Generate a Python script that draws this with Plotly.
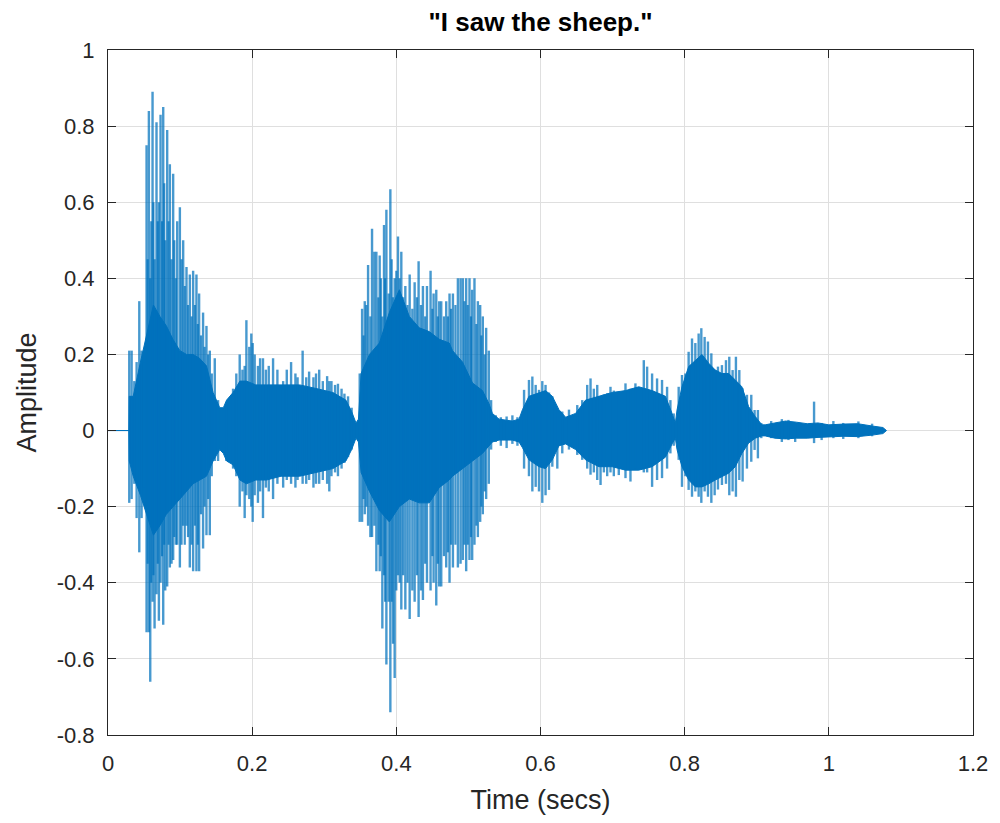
import plotly.graph_objects as go

# ---- data (time in seconds, amplitude) ----
# dense core envelope of the waveform
core_t = [0.000, 0.029, 0.0295, 0.035, 0.045, 0.0535, 0.063, 0.072, 0.081, 0.090, 0.0997, 0.109, 0.118, 0.127, 0.1366,
          0.1458, 0.155, 0.160, 0.1645, 0.1735, 0.183, 0.192, 0.205, 0.220, 0.240, 0.266, 0.290, 0.312, 0.330, 0.338,
          0.344, 0.3475, 0.3511, 0.3627, 0.3765, 0.3903, 0.4042, 0.418, 0.4318, 0.4457, 0.4595, 0.4734, 0.478, 0.4918,
          0.5057, 0.5195, 0.5287, 0.5333, 0.5425, 0.561, 0.5702, 0.575, 0.584, 0.5979, 0.607, 0.6164, 0.6256, 0.6349,
          0.6487, 0.6625, 0.6810, 0.6994, 0.7179, 0.7363, 0.7548, 0.7733, 0.7825, 0.7871, 0.7894, 0.7963, 0.8055,
          0.8148, 0.824, 0.8333, 0.8425, 0.8517, 0.861, 0.8702, 0.8794, 0.8887, 0.8979, 0.9071, 0.9117, 0.925, 0.940,
          0.955, 0.970, 0.985, 1.000, 1.020, 1.040, 1.060, 1.075, 1.080]
core_hi = [0.0, 0.0, 0.09, 0.09, 0.18, 0.25, 0.33, 0.30, 0.275, 0.24, 0.21, 0.20, 0.20, 0.19, 0.17,
           0.10, 0.06, 0.06, 0.08, 0.10, 0.13, 0.13, 0.12, 0.12, 0.12, 0.12, 0.11, 0.10, 0.08, 0.05,
           0.02, 0.03, 0.15, 0.20, 0.23, 0.31, 0.37, 0.30, 0.27, 0.26, 0.24, 0.23, 0.21, 0.18,
           0.125, 0.105, 0.07, 0.045, 0.03, 0.025, 0.03, 0.055, 0.09, 0.10, 0.105, 0.09, 0.055, 0.035,
           0.045, 0.08, 0.09, 0.10, 0.105, 0.115, 0.105, 0.09, 0.045, 0.02, 0.054, 0.115, 0.168,
           0.185, 0.20, 0.177, 0.159, 0.15, 0.15, 0.133, 0.115, 0.063, 0.037, 0.015, 0.015, 0.02, 0.025,
           0.022, 0.018, 0.02, 0.015, 0.017, 0.018, 0.012, 0.008, 0.0]
core_lo = [0.0, 0.0, -0.08, -0.12, -0.17, -0.22, -0.275, -0.25, -0.22, -0.20, -0.18, -0.16, -0.14, -0.13, -0.12,
           -0.08, -0.05, -0.06, -0.08, -0.09, -0.13, -0.14, -0.13, -0.13, -0.12, -0.12, -0.11, -0.10, -0.08, -0.05,
           -0.02, -0.03, -0.11, -0.16, -0.21, -0.24, -0.20, -0.18, -0.19, -0.19, -0.15, -0.13, -0.12, -0.10,
           -0.08, -0.06, -0.04, -0.03, -0.025, -0.025, -0.03, -0.045, -0.077, -0.095, -0.10, -0.077, -0.04, -0.035,
           -0.05, -0.077, -0.095, -0.095, -0.104, -0.104, -0.095, -0.07, -0.035, -0.02, -0.05, -0.095, -0.13,
           -0.148, -0.148, -0.14, -0.13, -0.12, -0.112, -0.095, -0.06, -0.033, -0.02, -0.014, -0.014, -0.02, -0.022,
           -0.02, -0.02, -0.018, -0.016, -0.015, -0.016, -0.012, -0.008, 0.0]

# individual pitch-pulse spikes (time, positive peak, negative peak)
spike_t = [0.0295, 0.0328, 0.0365, 0.0397, 0.0434, 0.0466, 0.0498, 0.0535, 0.0567, 0.0586, 0.0618, 0.0646, 0.0673,
           0.0706, 0.0729, 0.0766, 0.0794, 0.0821, 0.0858, 0.0881, 0.0904, 0.0941, 0.0960, 0.0997, 0.1043, 0.1089,
           0.1135, 0.1181, 0.1227, 0.1264, 0.1319, 0.1366, 0.1412, 0.1481, 0.1527, 0.1642,
           0.1735, 0.1780, 0.1827, 0.1865, 0.1896, 0.1920, 0.1960, 0.1988, 0.2007, 0.2035, 0.2080, 0.2110, 0.2150,
           0.2190, 0.2230, 0.2290, 0.2350, 0.2430, 0.2480, 0.2540, 0.2600, 0.2630, 0.2700, 0.2750, 0.2790, 0.2850,
           0.2886, 0.2930, 0.2980, 0.3040, 0.3070, 0.3100, 0.3150, 0.3190, 0.3240, 0.3280, 0.3330, 0.3380,
           0.3446, 0.3492, 0.3525, 0.3562, 0.3608, 0.3640, 0.3663, 0.3695, 0.3723, 0.3769, 0.3806, 0.3829, 0.3862,
           0.3894, 0.3917, 0.3954, 0.3977, 0.4023, 0.4069, 0.4125, 0.4185, 0.4222, 0.4254, 0.4309, 0.4342, 0.4369,
           0.4425, 0.4475, 0.4517, 0.4554, 0.4595, 0.4623, 0.4692, 0.4738, 0.4785, 0.4854, 0.4891, 0.4923, 0.4969,
           0.5015, 0.5052, 0.5084, 0.5131, 0.5163, 0.5200, 0.5246, 0.5283, 0.5315,
           0.5380, 0.5450, 0.5530, 0.5610, 0.5680,
           0.5772, 0.5840, 0.5887, 0.5933, 0.5979, 0.6025, 0.6070, 0.6118, 0.6164, 0.6233, 0.6302, 0.6395, 0.6510,
           0.6579, 0.6648, 0.6694, 0.6740, 0.6787, 0.6833, 0.6879, 0.6925, 0.6971, 0.7017, 0.7086, 0.7179, 0.7248,
           0.7317, 0.7433, 0.7479, 0.7548, 0.7617, 0.7686, 0.7756, 0.7802, 0.7848,
           0.7917, 0.7963, 0.8010, 0.8055, 0.8102, 0.8148, 0.8194, 0.8231, 0.8277, 0.8323, 0.8370, 0.8416, 0.8462,
           0.8517, 0.8573, 0.8619, 0.8665, 0.8711, 0.8758, 0.8804, 0.8864, 0.8924, 0.8970, 0.9016, 0.9063,
           0.9200, 0.9348, 0.9440, 0.9533, 0.9795, 0.9900, 1.0063, 1.0200, 1.0410, 1.0600]
spike_hi = [0.21, 0.21, 0.13, 0.18, 0.34, 0.21, 0.18, 0.75, 0.84, 0.40, 0.89, 0.45, 0.81,
            0.60, 0.83, 0.85, 0.50, 0.79, 0.70, 0.45, 0.675, 0.40, 0.55, 0.587, 0.50, 0.43,
            0.41, 0.42, 0.41, 0.36, 0.31, 0.275, 0.21, 0.19, 0.08, 0.07,
            0.11, 0.15, 0.20, 0.16, 0.17, 0.29, 0.22, 0.255, 0.23, 0.20, 0.17, 0.19, 0.19,
            0.16, 0.17, 0.19, 0.16, 0.13, 0.16, 0.18, 0.15, 0.14, 0.21, 0.14, 0.155, 0.14,
            0.15, 0.16, 0.13, 0.143, 0.13, 0.13, 0.12, 0.123, 0.11, 0.097, 0.09, 0.06,
            0.02, 0.15, 0.32, 0.34, 0.435, 0.30, 0.53, 0.47, 0.47, 0.46, 0.30, 0.54, 0.58,
            0.36, 0.634, 0.35, 0.40, 0.51, 0.47, 0.38, 0.41, 0.32, 0.39, 0.445, 0.33, 0.38,
            0.38, 0.42, 0.36, 0.37, 0.34, 0.34, 0.34, 0.36, 0.36, 0.40, 0.40, 0.40, 0.40,
            0.40, 0.37, 0.40, 0.34, 0.33, 0.30, 0.27, 0.21, 0.08,
            0.04, 0.035, 0.037, 0.04, 0.035,
            0.107, 0.133, 0.142, 0.12, 0.107, 0.13, 0.12, 0.10, 0.09, 0.055, 0.05, 0.055, 0.067,
            0.08, 0.12, 0.137, 0.11, 0.12, 0.09, 0.095, 0.098, 0.115, 0.105, 0.10, 0.124, 0.11,
            0.124, 0.185, 0.168, 0.15, 0.137, 0.133, 0.115, 0.08, 0.045,
            0.115, 0.146, 0.15, 0.207, 0.242, 0.23, 0.255, 0.269, 0.246, 0.234, 0.203, 0.159, 0.168,
            0.172, 0.185, 0.194, 0.159, 0.194, 0.159, 0.111, 0.094, 0.094, 0.054, 0.054, 0.02,
            0.025, 0.03, 0.028, 0.02, 0.076, 0.02, 0.025, 0.02, 0.024, 0.018]
spike_lo = [-0.19, -0.18, -0.14, -0.23, -0.32, -0.23, -0.15, -0.53, -0.53, -0.66, -0.45, -0.52, -0.43,
            -0.50, -0.40, -0.51, -0.42, -0.41, -0.36, -0.35, -0.34, -0.30, -0.30, -0.36, -0.25, -0.25,
            -0.36, -0.37, -0.37, -0.37, -0.31, -0.275, -0.275, -0.08, -0.08, -0.08,
            -0.10, -0.12, -0.20, -0.16, -0.23, -0.17, -0.18, -0.20, -0.24, -0.17, -0.19, -0.16, -0.23,
            -0.15, -0.16, -0.18, -0.14, -0.15, -0.13, -0.14, -0.15, -0.13, -0.14, -0.14, -0.13, -0.15,
            -0.14, -0.14, -0.13, -0.14, -0.16, -0.12, -0.11, -0.12, -0.10, -0.085, -0.07, -0.05,
            -0.02, -0.24, -0.24, -0.22, -0.25, -0.28, -0.28, -0.25, -0.37, -0.37, -0.52, -0.38, -0.615,
            -0.45, -0.74, -0.56, -0.65, -0.38, -0.47, -0.47, -0.495, -0.42, -0.45, -0.49, -0.42, -0.445,
            -0.40, -0.42, -0.40, -0.46, -0.41, -0.41, -0.36, -0.40, -0.36, -0.36, -0.35, -0.34, -0.37,
            -0.34, -0.34, -0.30, -0.28, -0.24, -0.22, -0.18, -0.14, -0.05,
            -0.03, -0.04, -0.046, -0.035, -0.04,
            -0.10, -0.12, -0.16, -0.148, -0.16, -0.19, -0.17, -0.156, -0.095, -0.10, -0.06, -0.05, -0.064,
            -0.077, -0.10, -0.116, -0.11, -0.13, -0.143, -0.11, -0.12, -0.11, -0.12, -0.117, -0.125, -0.134,
            -0.10, -0.11, -0.11, -0.148, -0.13, -0.125, -0.10, -0.06, -0.04,
            -0.077, -0.148, -0.12, -0.156, -0.174, -0.16, -0.174, -0.19, -0.16, -0.174, -0.19, -0.17, -0.155,
            -0.143, -0.14, -0.17, -0.16, -0.174, -0.13, -0.134, -0.10, -0.082, -0.051, -0.073, -0.02,
            -0.02, -0.03, -0.025, -0.03, -0.033, -0.025, -0.02, -0.022, -0.02, -0.015]

# secondary (smaller) oscillation peaks between the main pulses
minor_t = [0.0550, 0.0600, 0.0630, 0.0690, 0.0750, 0.0780, 0.0840, 0.0920, 0.1020, 0.1065, 0.1110, 0.1160,
           0.1205, 0.1245, 0.1290, 0.1340, 0.1390, 0.1440,
           0.3545, 0.3585, 0.3750, 0.3785, 0.3845, 0.3935, 0.4000, 0.4045, 0.4095, 0.4155, 0.4285, 0.4400,
           0.4500, 0.4575, 0.4660, 0.4715, 0.4760, 0.4820, 0.4945, 0.4990, 0.5035, 0.5110, 0.5180, 0.5225]
minor_hi = [0.45, 0.55, 0.60, 0.55, 0.55, 0.65, 0.55, 0.50, 0.45, 0.38, 0.33, 0.30,
            0.33, 0.28, 0.25, 0.22, 0.20, 0.15,
            0.25, 0.33, 0.35, 0.40, 0.40, 0.45, 0.42, 0.40, 0.35, 0.33, 0.35, 0.30,
            0.32, 0.30, 0.30, 0.30, 0.32, 0.33, 0.34, 0.33, 0.30, 0.28, 0.25, 0.20]
minor_lo = [-0.35, -0.40, -0.38, -0.35, -0.33, -0.30, -0.30, -0.28, -0.30, -0.30, -0.28, -0.30,
            -0.25, -0.30, -0.22, -0.20, -0.18, -0.12,
            -0.18, -0.20, -0.30, -0.33, -0.45, -0.45, -0.42, -0.40, -0.38, -0.40, -0.38, -0.35,
            -0.33, -0.35, -0.33, -0.32, -0.30, -0.30, -0.30, -0.30, -0.28, -0.25, -0.20, -0.16]

x_tick_vals = [0, 0.2, 0.4, 0.6, 0.8, 1.0, 1.2]
x_tick_text = ["0", "0.2", "0.4", "0.6", "0.8", "1", "1.2"]
y_tick_vals = [-0.8, -0.6, -0.4, -0.2, 0, 0.2, 0.4, 0.6, 0.8, 1.0]
y_tick_text = ["-0.8", "-0.6", "-0.4", "-0.2", "0", "0.2", "0.4", "0.6", "0.8", "1"]

LINE = "#0072BD"
AXC = "#262626"
FONT = "Liberation Sans, Arial, Helvetica, sans-serif"

# build traces from the data arrays
core_x = core_t + core_t[::-1]
core_y = core_hi + core_lo[::-1]


def segments(ts, his, los):
    xs, ys = [], []
    for t, hi, lo in zip(ts, his, los):
        xs += [t, t, None]
        ys += [hi, lo, None]
    return xs, ys


mx, my = segments(minor_t, minor_hi, minor_lo)
sx, sy = segments(spike_t, spike_hi, spike_lo)

fig = go.Figure()
fig.add_trace(go.Scatter(x=core_x, y=core_y, mode="lines", fill="toself",
                         fillcolor=LINE, line=dict(color=LINE, width=1), hoverinfo="skip"))
fig.add_trace(go.Scatter(x=mx, y=my, mode="lines",
                         line=dict(color="rgba(0,114,189,0.75)", width=2.2), hoverinfo="skip"))
fig.add_trace(go.Scatter(x=sx, y=sy, mode="lines",
                         line=dict(color="rgba(0,114,189,0.72)", width=2.4), hoverinfo="skip"))

axis_common = dict(showline=True, linecolor=AXC, linewidth=1, mirror="ticks",
                   ticks="inside", ticklen=8, tickcolor=AXC, tickwidth=1,
                   showgrid=True, gridcolor="#dfdfdf", gridwidth=1, zeroline=False,
                   tickfont=dict(family=FONT, size=22, color=AXC))

fig.update_xaxes(range=[0, 1.2], tickvals=x_tick_vals, ticktext=x_tick_text,
                 title=dict(text="Time (secs)", font=dict(family=FONT, size=27, color=AXC), standoff=14),
                 ticklabelstandoff=9, **axis_common)
fig.update_yaxes(range=[-0.8, 1.0], tickvals=y_tick_vals, ticktext=y_tick_text,
                 title=dict(text="Amplitude", font=dict(family=FONT, size=27, color=AXC), standoff=12),
                 ticklabelstandoff=8, **axis_common)

# the page body adds an 8 px offset, so the figure is 8 px smaller and shifted
fig.update_layout(
    width=992, height=815,
    margin=dict(l=100, r=17, t=42, b=88),
    paper_bgcolor="white", plot_bgcolor="white",
    showlegend=False,
    font=dict(family=FONT, color=AXC),
    title=dict(text='<b>"I saw the sheep."</b>', x=0.5, xref="paper", xanchor="center",
               y=1 - 14 / 815, yref="container", yanchor="middle",
               font=dict(family=FONT, size=26, color="#000000")),
)

fig.write_html("out.html")
